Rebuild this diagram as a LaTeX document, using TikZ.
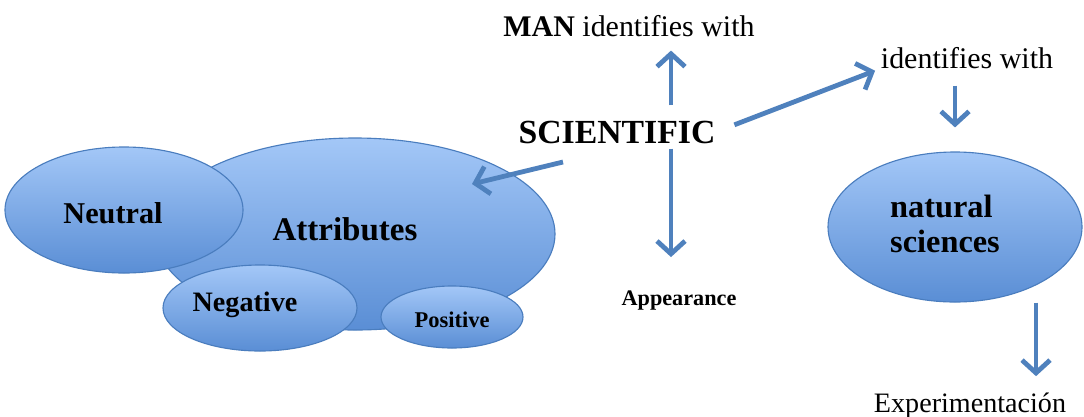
\documentclass[tikz,border=0pt]{standalone}
\usepackage{fontspec}
\setmainfont{Liberation Serif}
\usetikzlibrary{arrows.meta,shapes.geometric}
\definecolor{bubbletop}{HTML}{A3C7F7}
\definecolor{bubbleline}{HTML}{4A7DBE}
\definecolor{bubblebottom}{HTML}{5A8ED5}
\definecolor{arrowblue}{HTML}{4F81BD}
\newcommand{\fs}[1]{\fontsize{#1}{#1}\selectfont}
\tikzset{
  bubble/.style={ellipse, draw=bubbleline, line width=0.8pt, top color=bubbletop, bottom color=bubblebottom, inner sep=0pt},
  flow/.style={arrowblue, line width=3.4pt, -{Straight Barb[length=3.2mm,width=7mm]}},
  wordnode/.style={inner sep=0pt, anchor=base}
}

\begin{document}
\begin{tikzpicture}[x=0.25mm, y=-0.25mm]
  \useasboundingbox[fill=white] (0,0) rectangle (1084,416);
  % bubbles
  \node[bubble, minimum width=100mm, minimum height=48mm] (attr) at (355,234) {};
  \node[bubble, minimum width=59.5mm, minimum height=31.5mm] (neutral) at (124,210) {};
  \node[bubble, minimum width=48.5mm, minimum height=21.5mm] (neg) at (260,308) {};
  \node[bubble, minimum width=35.5mm, minimum height=15.5mm] (pos) at (452,317) {};
  \node[bubble, minimum width=63.5mm, minimum height=37.5mm] (nat) at (955,227) {};
  % words
  \node[inner sep=0pt, font=\bfseries\fs{23.5}] (attrtext) at (345,229) {Attributes};
  \node[inner sep=0pt, font=\bfseries\fs{21.5}] (neutraltext) at (113,213) {Neutral};
  \node[inner sep=0pt, font=\bfseries\fs{20}] (negtext) at (245,305) {Negative};
  \node[inner sep=0pt, font=\bfseries\fs{16}] (postext) at (452,320) {Positive};
  \node[inner sep=0pt, align=left, font=\bfseries\fs{23}] (nattext) at (945,224) {natural\\[2pt]sciences};
  \node[wordnode, font=\bfseries\fs{24}] (sci) at (617,143) {SCIENTIFIC};
  \node[wordnode, font=\fs{21.3}] (man) at (629,36) {\textbf{MAN} identifies with};
  \node[wordnode, font=\fs{21.3}] (ident) at (967,68) {identifies with};
  \node[wordnode, font=\bfseries\fs{15.8}] (appear) at (679,305) {Appearance};
  \node[wordnode, font=\fs{20}] (exp) at (970,412) {Experimentación};
  \coordinate (upline) at (671,0);
  \coordinate (rightline) at (1036,0);
  \coordinate (lefttail) at (563,162);
  \coordinate (lefthead) at (472,184);
  % arrows
  \draw[flow, shorten <=3.75mm, shorten >=3.5mm] (sci.north -| upline) -- (man.south -| upline);
  \draw[flow, shorten <=1.25mm, shorten >=8.25mm] (sci.south -| upline) -- (appear.north -| upline);
  \draw[flow] (lefttail) -- (lefthead);
  \draw[flow, shorten <=5mm, shorten >=1.5mm] (sci.east) -- (ident.south west);
  \draw[flow, shorten <=4.25mm, shorten >=6mm] (ident.south -| nat.north) -- (nat.north);
  \draw[flow, shorten >=4mm] (nat.south -| rightline) -- (exp.north -| rightline);
\end{tikzpicture}
\end{document}
